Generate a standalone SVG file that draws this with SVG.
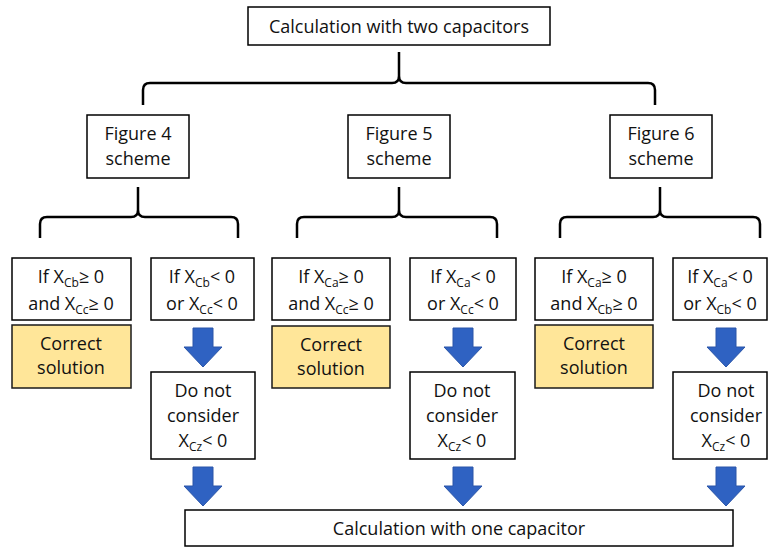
<svg xmlns="http://www.w3.org/2000/svg" xmlns:xlink="http://www.w3.org/1999/xlink" width="769" height="547" viewBox="0 0 769 547">
<style>
.box{fill:#fff;stroke:#000;stroke-width:1.5}
.ok{fill:#FFE699;stroke:#1a1a1a;stroke-width:1.5}
.br{fill:none;stroke:#000;stroke-width:2.5}
text{font-family:"Open Sans","Liberation Sans",sans-serif;font-size:18px;fill:#111;text-anchor:middle}
.s{font-size:12px}
</style>
<defs>
<path id="arr" d="M-10,0 H10 V19 H19 L0,39 L-19,19 H-10 Z" fill="#2F62C2" stroke="#2A55A8" stroke-width="1"/>
</defs>
<rect width="769" height="547" fill="#fff"/>
<g id="connectors">
<path class="br" d="M143,105 V90 Q143,83 150,83 H392 Q399,83 399,76 V52 M399,76 Q399,83 406,83 H648 Q655,83 655,90 V105"/>
<path class="br" d="M40,238 V224 Q40,217 47,217 H131 Q138,217 138,210 V187 M138,210 Q138,217 145,217 H231 Q238,217 238,224 V238"/>
<path class="br" d="M297,238 V224 Q297,217 304,217 H392 Q399,217 399,210 V187 M399,210 Q399,217 406,217 H490 Q497,217 497,224 V238"/>
<path class="br" d="M560,238 V224 Q560,217 567,217 H653 Q660,217 660,210 V187 M660,210 Q660,217 667,217 H753 Q760,217 760,224 V238"/>
<use xlink:href="#arr" transform="translate(203,328)"/>
<use xlink:href="#arr" transform="translate(463,328)"/>
<use xlink:href="#arr" transform="translate(726,328)"/>
<use xlink:href="#arr" transform="translate(203,467)"/>
<use xlink:href="#arr" transform="translate(463,467)"/>
<use xlink:href="#arr" transform="translate(726,467)"/>
</g>
<g id="top"><rect class="box" x="248" y="7" width="302" height="38"/><text x="399" y="33">Calculation with two capacitors</text></g>
<g id="fig4"><rect class="box" x="87" y="115" width="102" height="63"/><text x="138" y="140">Figure 4</text><text x="138" y="165">scheme</text></g>
<g id="fig5"><rect class="box" x="348" y="115" width="102" height="63"/><text x="399" y="140">Figure 5</text><text x="399" y="165">scheme</text></g>
<g id="fig6"><rect class="box" x="610" y="115" width="102" height="63"/><text x="661" y="140">Figure 6</text><text x="661" y="165">scheme</text></g>

<g id="c1a"><rect class="box" x="12" y="258" width="119" height="62"/>
<text x="71" y="283">If X<tspan class="s" dy="4">Cb</tspan><tspan dy="-4">≥ 0</tspan></text>
<text x="71" y="310">and X<tspan class="s" dy="4">Cc</tspan><tspan dy="-4">≥ 0</tspan></text></g>
<g id="c1b"><rect class="box" x="151" y="258" width="103" height="62"/>
<text x="202" y="283">If X<tspan class="s" dy="4">Cb</tspan><tspan dy="-4">&lt; 0</tspan></text>
<text x="202" y="310">or X<tspan class="s" dy="4">Cc</tspan><tspan dy="-4">&lt; 0</tspan></text></g>
<g id="ok1"><rect class="ok" x="12" y="325" width="119" height="63"/><text x="71" y="350">Correct</text><text x="71" y="374">solution</text></g>
<g id="dn1"><rect class="box" x="151" y="372" width="104" height="87"/><text x="203" y="397">Do not</text><text x="203" y="422">consider</text><text x="203" y="447">X<tspan class="s" dy="4">Cz</tspan><tspan dy="-4">&lt; 0</tspan></text></g>

<g id="c2a"><rect class="box" x="272" y="258" width="118" height="62"/>
<text x="331" y="283">If X<tspan class="s" dy="4">Ca</tspan><tspan dy="-4">≥ 0</tspan></text>
<text x="331" y="310">and X<tspan class="s" dy="4">Cc</tspan><tspan dy="-4">≥ 0</tspan></text></g>
<g id="c2b"><rect class="box" x="410" y="258" width="106" height="62"/>
<text x="463" y="283">If X<tspan class="s" dy="4">Ca</tspan><tspan dy="-4">&lt; 0</tspan></text>
<text x="463" y="310">or X<tspan class="s" dy="4">Cc</tspan><tspan dy="-4">&lt; 0</tspan></text></g>
<g id="ok2"><rect class="ok" x="272" y="326" width="118" height="62"/><text x="331" y="351">Correct</text><text x="331" y="375">solution</text></g>
<g id="dn2"><rect class="box" x="410" y="372" width="105" height="87"/><text x="462" y="397">Do not</text><text x="462" y="422">consider</text><text x="462" y="447">X<tspan class="s" dy="4">Cz</tspan><tspan dy="-4">&lt; 0</tspan></text></g>

<g id="c3a"><rect class="box" x="535" y="258" width="118" height="62"/>
<text x="594" y="283">If X<tspan class="s" dy="4">Ca</tspan><tspan dy="-4">≥ 0</tspan></text>
<text x="594" y="310">and X<tspan class="s" dy="4">Cb</tspan><tspan dy="-4">≥ 0</tspan></text></g>
<g id="c3b"><rect class="box" x="673" y="258" width="94" height="62"/>
<text x="720" y="283">If X<tspan class="s" dy="4">Ca</tspan><tspan dy="-4">&lt; 0</tspan></text>
<text x="720" y="310">or X<tspan class="s" dy="4">Cb</tspan><tspan dy="-4">&lt; 0</tspan></text></g>
<g id="ok3"><rect class="ok" x="535" y="325" width="118" height="63"/><text x="594" y="350">Correct</text><text x="594" y="374">solution</text></g>
<g id="dn3"><rect class="box" x="673" y="372" width="94" height="87"/><text x="726" y="397">Do not</text><text x="726" y="422">consider</text><text x="726" y="447">X<tspan class="s" dy="4">Cz</tspan><tspan dy="-4">&lt; 0</tspan></text></g>

<g id="bottom"><rect class="box" x="185" y="510" width="548" height="36"/><text x="459" y="535">Calculation with one capacitor</text></g>
</svg>
